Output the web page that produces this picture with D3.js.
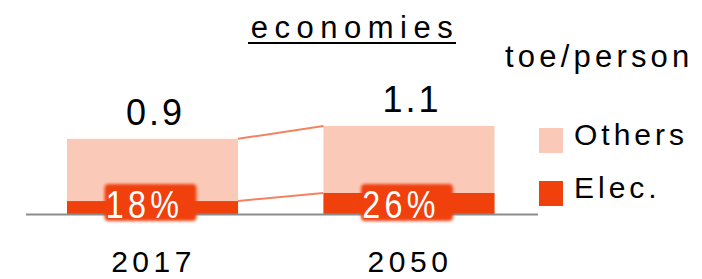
<!DOCTYPE html>
<html><head><meta charset="utf-8">
<script src="https://cdn.jsdelivr.net/npm/d3@7"></script>
<style>
html,body{margin:0;padding:0;background:#fff;}
svg{display:block;font-family:"Liberation Sans",Arial,sans-serif;}
</style></head>
<body><svg id="c" width="702" height="279"></svg>
<script>
const years = ["2017", "2050"];
const totals = [0.93, 1.09];
const elec = [0.16, 0.26];
const totalLabels = ["0.9", "1.1"];
const shareLabels = ["18%", "26%"];
const seriesNames = ["Others", "Elec."];
const colors = {Others: "#fbc9b7", "Elec.": "#f0400c", link: "#f5825f", axis: "#8c8c8c"};

const svg = d3.select("#c");
const x = d3.scaleBand().domain(years).range([67, 494.5]).paddingInner(0.333).paddingOuter(0);
const y = d3.scaleLinear().domain([0, 1.2]).range([214, 117]);
const bw = x.bandwidth();

const defs = svg.append("defs");
const f = defs.append("filter").attr("id", "halo").attr("x", "-30%").attr("y", "-30%").attr("width", "160%").attr("height", "160%");
f.append("feGaussianBlur").attr("stdDeviation", 1.6);

// title
svg.append("text").attr("x", 355).attr("y", 38).attr("text-anchor", "middle")
  .attr("font-size", 31).attr("letter-spacing", 6.5).text("economies");
svg.append("line").attr("x1", 248).attr("x2", 456).attr("y1", 43).attr("y2", 43)
  .attr("stroke", "#000").attr("stroke-width", 2);
svg.append("text").attr("x", 505).attr("y", 67).attr("font-size", 31).attr("letter-spacing", 4.2).text("toe/person");

// bars
years.forEach((yr, i) => {
  svg.append("rect").attr("x", x(yr)).attr("width", bw)
    .attr("y", y(totals[i])).attr("height", y(0) - y(totals[i])).attr("fill", colors.Others);
  svg.append("rect").attr("x", x(yr)).attr("width", bw)
    .attr("y", y(elec[i])).attr("height", y(0) - y(elec[i])).attr("fill", colors["Elec."]);
});

// connectors
[totals, elec].forEach(arr => {
  svg.append("line")
    .attr("x1", x(years[0]) + bw).attr("y1", y(arr[0]))
    .attr("x2", x(years[1])).attr("y2", y(arr[1]))
    .attr("stroke", colors.link).attr("stroke-width", 2);
});

// axis baseline
svg.append("line").attr("x1", 26).attr("x2", 538).attr("y1", 214.5).attr("y2", 214.5)
  .attr("stroke", colors.axis).attr("stroke-width", 2);

// share labels with halo
years.forEach((yr, i) => {
  const cx = x(yr) + bw / 2;
  svg.append("rect").attr("x", cx - 48).attr("y", 184).attr("width", 92).attr("height", 37)
    .attr("rx", 4).attr("fill", colors["Elec."]).attr("filter", "url(#halo)");
  svg.append("text").attr("transform", `translate(${cx - 8},218) scale(0.85,1)`)
    .attr("text-anchor", "middle")
    .attr("font-size", 38).attr("letter-spacing", 5).attr("fill", "#fff").text(shareLabels[i]);
});

// total labels
years.forEach((yr, i) => {
  svg.append("text").attr("x", x(yr) + bw / 2 + 3).attr("y", y(totals[i]) - 14)
    .attr("text-anchor", "middle").attr("font-size", 36).attr("letter-spacing", 3).text(totalLabels[i]);
});

// year labels
years.forEach(yr => {
  svg.append("text").attr("x", x(yr) + bw / 2 + 1).attr("y", 272)
    .attr("text-anchor", "middle").attr("font-size", 30).attr("letter-spacing", 4.5).text(yr);
});

// legend
const legY = [128, 181];
["Others", "Elec."].forEach((n, i) => {
  svg.append("rect").attr("x", 539).attr("y", legY[i]).attr("width", 24).attr("height", 25).attr("fill", colors[n]);
  svg.append("text").attr("x", 574).attr("y", legY[i] + 17).attr("font-size", 30).attr("letter-spacing", 4).text(n);
});
</script></body></html>
